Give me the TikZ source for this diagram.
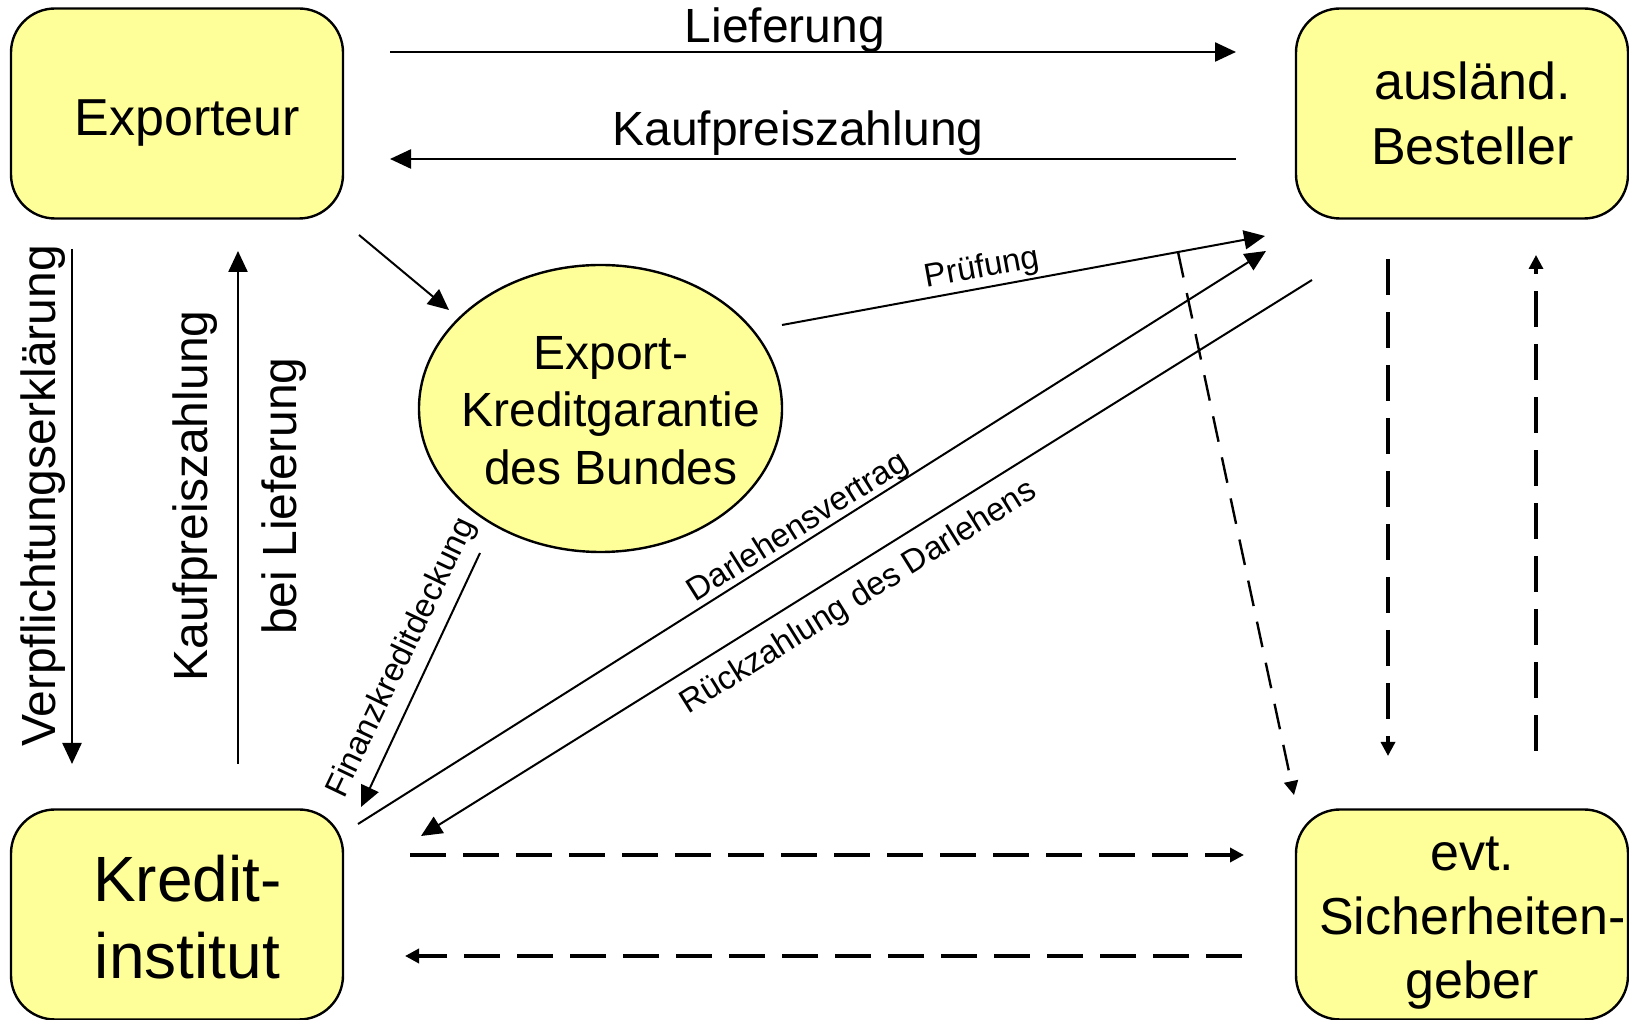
\documentclass[tikz,border=0pt]{standalone}
\usepackage{fontspec}
\setmainfont{Liberation Sans}
\usetikzlibrary{arrows.meta,shapes.geometric,positioning}
\definecolor{boxyellow}{RGB}{255,255,153}

\begin{document}
\begin{tikzpicture}[x=0.5pt,y=-0.5pt,on grid,
    partner/.style={draw,line width=1.2pt,fill=boxyellow,rounded corners=22pt,
      minimum width=166pt,minimum height=105pt,inner sep=0pt},
    ptext/.style={align=center,xshift=5.2pt,font=\fontsize{26}{32.7}\selectfont},
    flow/.style={line width=1.2pt,-{Triangle[length=10.5pt,width=9.5pt]}},
    dflow/.style={line width=1.8pt,dash pattern=on 18pt off 8.5pt,
      -{Triangle[length=7pt,width=7pt]}},
    lbl/.style={font=\fontsize{24}{28}\selectfont},
    small/.style={font=\fontsize{16.5}{20}\selectfont}]
    \useasboundingbox (0,0) rectangle (1629,1020);

    \node[partner,label={[ptext,name=exp-t,yshift=-4.7pt]center:Exporteur}]
      (exp) at (177,113.5) {};
    \node[partner,label={[ptext,name=best-t]center:ausländ.\\Besteller}]
      (best) [right=642.5pt of exp] {};
    \node[partner,label={[ptext,name=kred-t,yshift=-1.5pt,font=\fontsize{32}{38.5}\selectfont]center:Kredit-\\institut}]
      (kred) [below=400.5pt of exp] {};
    \node[partner,label={[ptext,name=sich-t,yshift=-4.2pt,font=\fontsize{26}{32}\selectfont]center:evt.\\Sicherheiten-\\geber}]
      (sich) [below=400.5pt of best] {};
    \node[draw,ellipse,line width=1.2pt,fill=boxyellow,minimum width=181.5pt,
      minimum height=143.5pt,inner sep=0pt,
      label={[name=keg-t,align=center,xshift=5.2pt,yshift=-1pt,font=\fontsize{24}{28.8}\selectfont]center:Export-\\Kreditgarantie\\des Bundes}]
      (keg) at (600.5,408.5) {};

    % Enden der Pfeile
    \coordinate (l1) at (390,52);   \coordinate (l2) at (1236,52);
    \coordinate (k1) at (1236,159); \coordinate (k2) at (390,159);
    \coordinate (e1) at (359,235);  \coordinate (e2) at (449,310);
    \coordinate (p1) at (782,325);  \coordinate (p2) at (1265,236);
    \coordinate (d1) at (358,824);  \coordinate (d2) at (1266,251);
    \coordinate (r1) at (1312,280); \coordinate (r2) at (421,836);
    \coordinate (f1) at (480,553);  \coordinate (f2) at (361,807);
    \coordinate (a1) at (72,249);   \coordinate (a2) at (72,764);
    \coordinate (c1) at (238,764);  \coordinate (c2) at (238,251);
    \coordinate (s1) at (1178,252); \coordinate (s2) at (1294,795);
    \coordinate (v1) at (1388,259); \coordinate (v2) at (1388,756);
    \coordinate (u1) at (1536,751); \coordinate (u2) at (1536,255);
    \coordinate (h1) at (410,855);  \coordinate (h2) at (1244,855);
    \coordinate (b1) at (1242,956); \coordinate (b2) at (405,956);

    \draw[flow] (l1) -- (l2);
    \draw[flow] (k1) -- (k2);
    \draw[flow] (a1) -- (a2);
    \draw[flow] (c1) -- (c2);
    \draw[flow,line width=1pt] (e1) -- (e2);
    \draw[flow,line width=1pt] (p1) -- (p2);
    \draw[flow,line width=1pt] (d1) -- (d2);
    \draw[flow,line width=1pt] (r1) -- (r2);
    \draw[flow,line width=1pt] (f1) -- (f2);
    \draw[dflow,line width=1.2pt,dash pattern=on 13pt off 8pt] (s1) -- (s2);
    \draw[dflow,line width=1.6pt] (v1) -- (v2);
    \draw[dflow,line width=1.6pt] (u1) -- (u2);
    \draw[dflow] (h1) -- (h2);
    \draw[dflow] (b1) -- (b2);

    \node[lbl,anchor=base] (t-lief) at (785,43) {Lieferung};
    \node[lbl,anchor=base] (t-kauf) at (798,146) {Kaufpreiszahlung};
    \node[lbl,rotate=90] (t-verpfl) at (43,496) {Verpflichtungserklärung};
    \node[lbl,rotate=90] (t-zahl) at (195,496) {Kaufpreiszahlung};
    \node[lbl,rotate=90] (t-bei) at (284,496) {bei Lieferung};
    \node[small,rotate=10.3] (t-pruef) at (982,269) {Prüfung};
    \node[small,rotate=32.2] (t-darl) at (798,528) {Darlehensvertrag};
    \node[small,rotate=32] (t-rueck) at (859,598) {Rückzahlung des Darlehens};
    \node[small,rotate=64.5] (t-fin) at (402,658) {Finanzkreditdeckung};
\end{tikzpicture}
\end{document}
